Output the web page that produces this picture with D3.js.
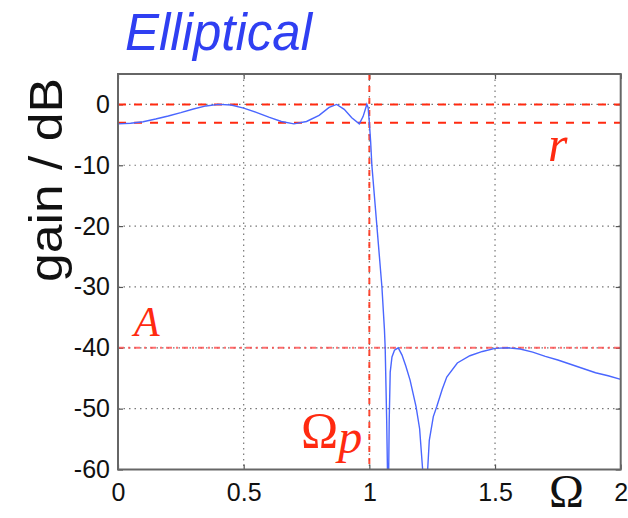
<!DOCTYPE html>
<html>
<head>
<meta charset="utf-8">
<script src="https://cdn.jsdelivr.net/npm/d3@7"></script>
<style>
html,body{margin:0;padding:0;background:#fff;}
svg{display:block;}
</style>
</head>
<body>
<svg id="chart" width="628" height="518"></svg>
<script>
// ---- data ----
const omega = [0,0.05,0.1,0.15,0.2,0.25,0.3,0.35,0.4,0.45,0.5,0.55,0.6,0.65,0.7,0.75,0.8,0.84,0.87,0.9,0.93,0.96,0.975,0.99,0.995,1.0,1.005,1.01,1.02,1.03,1.04,1.05,1.06,1.063,1.066,1.069,1.072,1.074,1.077,1.079,1.083,1.09,1.1,1.115,1.13,1.145,1.162,1.186,1.2,1.212,1.222,1.232,1.2385,1.2545,1.268,1.29,1.308,1.35,1.4,1.45,1.5,1.55,1.6,1.65,1.7,1.75,1.8,1.85,1.9,1.95,2.0];
const gainDb = [-3.2,-3.1,-2.85,-2.4,-1.9,-1.35,-0.75,-0.25,0,-0.1,-0.6,-1.3,-2.1,-2.8,-3.2,-2.8,-1.8,-0.5,0,-0.8,-2.2,-3.2,-2,0,-0.5,-3,-6,-10,-15,-20,-25,-30,-37,-40,-46,-52,-60,-75,-60,-52,-44,-41.5,-40.4,-40,-41.2,-43,-45.3,-49.7,-53.3,-60,-75,-60,-55.2,-51.3,-49.7,-46.8,-44.8,-42.5,-41.3,-40.6,-40.1,-40,-40.2,-40.7,-41.4,-42.0,-42.7,-43.4,-44.1,-44.6,-45.2];
const xTicks = [0,0.5,1,1.5,2];
const yTicks = [0,-10,-20,-30,-40,-50,-60];
const rippleLevels = [0,-3];
const stopbandLevel = -40;
const passbandEdge = 1;
const titleText = "Elliptical";
const yLabel = "gain / dB";

// ---- layout ----
const svg = d3.select("#chart");
const L = 118, R = 620.7, T = 74, B = 469.5;
const x = d3.scaleLinear().domain([0,2]).range([L,R]);
const y = d3.scaleLinear().domain([-60,5]).range([B,T]);

svg.append("defs").append("clipPath").attr("id","clip")
  .append("rect").attr("x",L).attr("y",T).attr("width",R-L).attr("height",B-T);

// grid
const grid = svg.append("g");
grid.selectAll("line.gx").data(xTicks.filter(d=>d>0&&d<2)).enter().append("line")
  .attr("x1",d=>x(d)).attr("x2",d=>x(d)).attr("y1",T).attr("y2",B)
  .attr("stroke","#777").attr("stroke-width",1.2).attr("stroke-dasharray","1.5,4");
grid.selectAll("line.gy").data(yTicks.filter(d=>d>-60)).enter().append("line")
  .attr("x1",L).attr("x2",R).attr("y1",d=>y(d)).attr("y2",d=>y(d))
  .attr("stroke","#777").attr("stroke-width",1.2).attr("stroke-dasharray","1.5,4");

// axes (D3 axes with inward ticks)
const fmt = d => String(d);
const xAxis = svg.append("g").attr("transform",`translate(0,${B})`)
  .call(d3.axisBottom(x).tickValues(xTicks).tickSize(-5).tickPadding(14).tickFormat(fmt));
const xAxisTop = svg.append("g").attr("transform",`translate(0,${T})`)
  .call(d3.axisTop(x).tickValues(xTicks).tickSize(-5).tickFormat(""));
const yAxis = svg.append("g").attr("transform",`translate(${L},0)`)
  .call(d3.axisLeft(y).tickValues(yTicks).tickSize(-5).tickPadding(8).tickFormat(fmt));
const yAxisR = svg.append("g").attr("transform",`translate(${R},0)`)
  .call(d3.axisRight(y).tickValues(yTicks).tickSize(-5).tickFormat(""));
[xAxis,xAxisTop,yAxis,yAxisR].forEach(g=>{
  g.select(".domain").remove();
  g.selectAll(".tick line").attr("stroke","#555").attr("stroke-width",1.2);
  g.selectAll("text").attr("font-family","Liberation Sans, Arial, sans-serif")
    .attr("font-size",25).attr("fill","#111");
});

// reference lines
const refs = svg.append("g").attr("clip-path","url(#clip)");
refs.selectAll("line.r").data(rippleLevels).enter().append("line")
  .attr("x1",L).attr("x2",R).attr("y1",d=>y(d)).attr("y2",d=>y(d))
  .attr("stroke","#ff2a10").attr("stroke-width",2).attr("stroke-dasharray","8,8");
refs.append("line").attr("x1",L).attr("x2",R).attr("y1",y(stopbandLevel)).attr("y2",y(stopbandLevel))
  .attr("stroke","#ff4a4a").attr("stroke-opacity",0.8).attr("stroke-width",2).attr("stroke-dasharray","6,4,2,4");
refs.append("line").attr("x1",x(passbandEdge)).attr("x2",x(passbandEdge)).attr("y1",T).attr("y2",B)
  .attr("stroke","#ff2a10").attr("stroke-opacity",0.85).attr("stroke-width",2).attr("stroke-dasharray","6,6");

// curve
const pts = omega.map((o,i)=>[o,gainDb[i]]);
svg.append("path").attr("clip-path","url(#clip)")
  .datum(pts)
  .attr("d",d3.line().x(d=>x(d[0])).y(d=>y(d[1])))
  .attr("fill","none").attr("stroke","#4a66ff").attr("stroke-width",1.4);

// frame
svg.append("rect").attr("x",L).attr("y",T).attr("width",R-L).attr("height",B-T)
  .attr("fill","none").attr("stroke","#666").attr("stroke-width",2);

// title
svg.append("text").attr("x",125).attr("y",50).text(titleText)
  .attr("font-family","Liberation Sans, Arial, sans-serif").attr("font-style","italic")
  .attr("font-size",51).attr("fill","#2f3ff2");

// y label
svg.append("text").attr("transform","translate(62,180) rotate(-90)")
  .attr("text-anchor","middle").text(yLabel)
  .attr("font-family","Liberation Sans, Arial, sans-serif").attr("font-size",46)
  .attr("textLength",204).attr("lengthAdjust","spacingAndGlyphs").attr("fill","#111");

// annotations
const serif = "Liberation Serif, Times New Roman, serif";
svg.append("text").attr("x",548).attr("y",161).text("r")
  .attr("font-family",serif).attr("font-style","italic").attr("font-size",50).attr("fill","#ff2a10");
svg.append("text").attr("x",134).attr("y",336).text("A")
  .attr("font-family",serif).attr("font-style","italic").attr("font-size",42).attr("fill","#ff2a10");
const op = svg.append("text").attr("x",301).attr("y",447)
  .attr("font-family",serif).attr("font-size",50).attr("fill","#ff2a10");
op.append("tspan").text("Ω");
op.append("tspan").attr("font-style","italic").attr("font-size",48).attr("dy",6).text("p");
svg.append("text").attr("x",549).attr("y",507).text("Ω")
  .attr("font-family",serif).attr("font-size",47).attr("fill","#111");
</script>
</body>
</html>
